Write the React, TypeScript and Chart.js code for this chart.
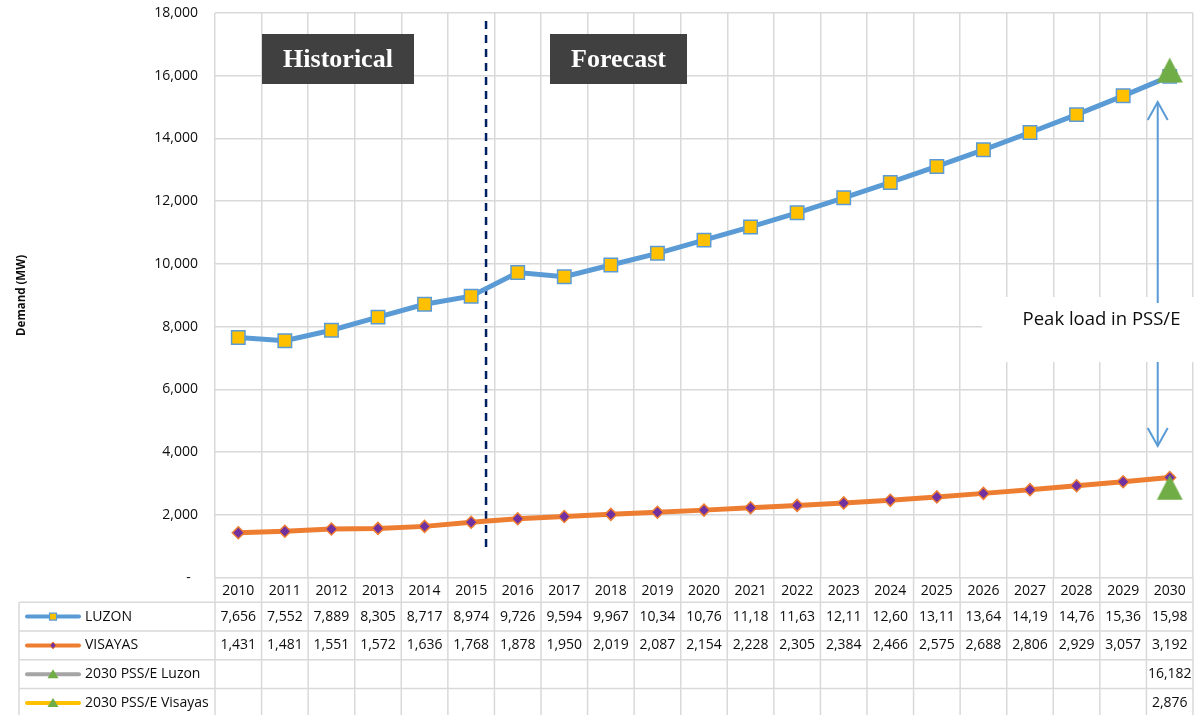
import React, { useEffect, useRef } from 'react';
import { Chart, registerables } from 'chart.js';

Chart.register(...registerables);

// ---------- data ----------
const years = ['2010', '2011', '2012', '2013', '2014', '2015', '2016', '2017', '2018', '2019', '2020',
  '2021', '2022', '2023', '2024', '2025', '2026', '2027', '2028', '2029', '2030'];

const luzon = [7656, 7552, 7889, 8305, 8717, 8974, 9726, 9594, 9967, 10340, 10760,
  11180, 11630, 12110, 12600, 13110, 13640, 14190, 14760, 15360, 15980];

const visayas = [1431, 1481, 1551, 1572, 1636, 1768, 1878, 1950, 2019, 2087, 2154,
  2228, 2305, 2384, 2466, 2575, 2688, 2806, 2929, 3057, 3192];

const pssLuzon: (number | null)[] = [null, null, null, null, null, null, null, null, null, null, null,
  null, null, null, null, null, null, null, null, null, 16182];

const pssVisayas: (number | null)[] = [null, null, null, null, null, null, null, null, null, null, null,
  null, null, null, null, null, null, null, null, null, 2876];

// table cell texts as shown (Luzon cells are clipped in the original)
const luzonTableLabels = ['7,656', '7,552', '7,889', '8,305', '8,717', '8,974', '9,726', '9,594', '9,967', '10,34', '10,76',
  '11,18', '11,63', '12,11', '12,60', '13,11', '13,64', '14,19', '14,76', '15,36', '15,98'];
const visayasTableLabels = visayas.map((v) => v.toLocaleString('en-US'));
const pssLuzonTableLabels = pssLuzon.map((v) => (v == null ? '' : v.toLocaleString('en-US')));
const pssVisayasTableLabels = pssVisayas.map((v) => (v == null ? '' : v.toLocaleString('en-US')));

const seriesNames = ['LUZON', 'VISAYAS', '2030 PSS/E Luzon', '2030 PSS/E Visayas'];

const yMin = 0;
const yMax = 18000;
const yStep = 2000;

const axisTitle = 'Demand (MW)';
const historicalText = 'Historical';
const forecastText = 'Forecast';
const peakText = 'Peak load in PSS/E';

// ---------- styles ----------
const FONT = '"Open Sans", "DejaVu Sans", sans-serif';
const GRID = '#d9d9d9';
const BLUE = '#5b9bd5';
const ORANGE = '#ed7d31';
const GRAY = '#a5a5a5';
const YELLOW = '#ffc000';
const GREEN = '#70ad47';
const PURPLE = '#7030a0';
const TEXT = '#0d0d0d';

function line(ctx: CanvasRenderingContext2D, x1: number, y1: number, x2: number, y2: number) {
  ctx.beginPath();
  ctx.moveTo(x1, y1);
  ctx.lineTo(x2, y2);
  ctx.stroke();
}

function makeTriangle(): HTMLCanvasElement {
  const c = document.createElement('canvas');
  c.width = 28;
  c.height = 26;
  const g = c.getContext('2d')!;
  g.fillStyle = GREEN;
  g.beginPath();
  g.moveTo(14, 0.5);
  g.lineTo(27, 25.5);
  g.lineTo(1, 25.5);
  g.closePath();
  g.fill();
  return c;
}

function drawMarker(ctx: CanvasRenderingContext2D, kind: number, cx: number, cy: number) {
  ctx.save();
  if (kind === 0) {
    ctx.fillStyle = YELLOW;
    ctx.strokeStyle = BLUE;
    ctx.lineWidth = 1.2;
    ctx.beginPath();
    ctx.rect(cx - 3.5, cy - 3.5, 7, 7);
    ctx.fill();
    ctx.stroke();
  } else if (kind === 1) {
    ctx.fillStyle = PURPLE;
    ctx.strokeStyle = ORANGE;
    ctx.lineWidth = 1;
    ctx.beginPath();
    ctx.moveTo(cx, cy - 3.5);
    ctx.lineTo(cx + 3, cy);
    ctx.lineTo(cx, cy + 3.5);
    ctx.lineTo(cx - 3, cy);
    ctx.closePath();
    ctx.fill();
    ctx.stroke();
  } else {
    ctx.fillStyle = GREEN;
    ctx.beginPath();
    ctx.moveTo(cx, cy - 5);
    ctx.lineTo(cx + 5.5, cy + 4);
    ctx.lineTo(cx - 5.5, cy + 4);
    ctx.closePath();
    ctx.fill();
  }
  ctx.restore();
}

const annotationPlugin = {
  id: 'annotations',
  beforeDatasetsDraw(chart: any) {
    const { ctx, chartArea, scales } = chart;
    const x = scales.x;
    const cw = x.getPixelForValue(1) - x.getPixelForValue(0);
    // white box behind "Peak load" text (covers grid)
    ctx.save();
    ctx.fillStyle = '#ffffff';
    ctx.fillRect(982, 297, chart.width - 982, 65);
    // dashed divider between historical and forecast
    const dx = x.getPixelForValue(5) + 0.32 * cw;
    ctx.strokeStyle = '#002060';
    ctx.lineWidth = 2.5;
    ctx.setLineDash([8, 6]);
    line(ctx, dx, chartArea.top + 8, dx, chartArea.bottom - 30);
    ctx.restore();
  },
  afterDatasetsDraw(chart: any) {
    const { ctx, scales } = chart;
    const x = scales.x;
    ctx.save();
    // Historical / Forecast labels
    ctx.fillStyle = '#404040';
    ctx.fillRect(262, 34, 152, 50);
    ctx.fillRect(550, 34, 137, 50);
    ctx.fillStyle = '#ffffff';
    ctx.font = 'bold 26px "Liberation Serif", "Times New Roman", serif';
    ctx.textAlign = 'center';
    ctx.textBaseline = 'middle';
    ctx.fillText(historicalText, 338, 60);
    ctx.fillText(forecastText, 618.5, 60);

    // Peak load text
    ctx.fillStyle = TEXT;
    ctx.font = `18.5px ${FONT}`;
    ctx.fillText(peakText, 1101.5, 320);

    // arrows
    const ax = x.getPixelForValue(20) - 12;
    ctx.strokeStyle = BLUE;
    ctx.lineWidth = 2;
    ctx.lineCap = 'butt';
    line(ctx, ax, 303, ax, 102);
    ctx.beginPath();
    ctx.moveTo(ax - 10, 120);
    ctx.lineTo(ax, 102);
    ctx.lineTo(ax + 10, 120);
    ctx.stroke();
    line(ctx, ax, 362, ax, 446);
    ctx.beginPath();
    ctx.moveTo(ax - 10, 428);
    ctx.lineTo(ax, 446);
    ctx.lineTo(ax + 10, 428);
    ctx.stroke();
    ctx.restore();
  },
};

const tablePlugin = {
  id: 'dataTable',
  afterDraw(chart: any) {
    const { ctx, chartArea, scales } = chart;
    const x = scales.x;
    const H = chart.height;
    const n = years.length;
    const cw = x.getPixelForValue(1) - x.getPixelForValue(0);
    const bottom = chartArea.bottom;
    const yearRowH = 24.5;
    const rowH = 28.8;
    const tableLeft = 19;
    const rowsTop = bottom + yearRowH;

    ctx.save();
    ctx.strokeStyle = GRID;
    ctx.lineWidth = 1.5;
    for (let i = 0; i <= n; i++) {
      const xx = x.getPixelForValue(0) - cw / 2 + i * cw;
      line(ctx, xx, bottom, xx, H);
    }
    line(ctx, tableLeft, rowsTop, tableLeft, H);
    for (let r = 0; r <= 4; r++) {
      const yy = rowsTop + r * rowH;
      line(ctx, tableLeft, yy, chartArea.right, yy);
    }

    ctx.fillStyle = TEXT;
    ctx.font = `14px ${FONT}`;
    ctx.textAlign = 'center';
    ctx.textBaseline = 'middle';
    years.forEach((yr, i) => ctx.fillText(yr, x.getPixelForValue(i), bottom + yearRowH / 2 + 1));

    const rows = [luzonTableLabels, visayasTableLabels, pssLuzonTableLabels, pssVisayasTableLabels];
    const colors = [BLUE, ORANGE, GRAY, YELLOW];
    rows.forEach((labels, r) => {
      const cy = rowsTop + r * rowH + rowH / 2;
      labels.forEach((t, i) => {
        if (t) ctx.fillText(t, x.getPixelForValue(i), cy);
      });
      // legend key
      ctx.save();
      ctx.strokeStyle = colors[r];
      ctx.lineWidth = 4;
      ctx.lineCap = 'round';
      line(ctx, 27, cy, 79, cy);
      ctx.restore();
      drawMarker(ctx, r, 53, cy);
      ctx.textAlign = 'left';
      ctx.fillText(seriesNames[r], 85, cy);
      ctx.textAlign = 'center';
    });
    ctx.restore();
  },
};

export default function App() {
  const canvasRef = useRef<HTMLCanvasElement | null>(null);

  useEffect(() => {
    const canvas = canvasRef.current;
    if (!canvas) return;
    const tri = makeTriangle();
    const chart = new Chart(canvas, {
      type: 'line',
      data: {
        labels: years,
        datasets: [
          {
            label: seriesNames[0],
            data: luzon,
            borderColor: BLUE,
            borderWidth: 5,
            pointStyle: 'rect',
            pointRadius: 9.5,
            pointBackgroundColor: YELLOW,
            pointBorderColor: BLUE,
            pointBorderWidth: 1.5,
            tension: 0,
            order: 2,
          },
          {
            label: seriesNames[1],
            data: visayas,
            borderColor: ORANGE,
            borderWidth: 5,
            pointStyle: 'rectRot',
            pointRadius: 6,
            pointBackgroundColor: PURPLE,
            pointBorderColor: ORANGE,
            pointBorderWidth: 1.5,
            tension: 0,
            order: 2,
          },
          {
            label: seriesNames[2],
            data: pssLuzon,
            borderColor: GRAY,
            showLine: false,
            pointStyle: tri,
            pointRadius: 14,
            pointBackgroundColor: GREEN,
            pointBorderColor: GREEN,
            pointBorderWidth: 0,
            order: 1,
          },
          {
            label: seriesNames[3],
            data: pssVisayas,
            borderColor: YELLOW,
            showLine: false,
            pointStyle: tri,
            pointRadius: 14,
            pointBackgroundColor: GREEN,
            pointBorderColor: GREEN,
            pointBorderWidth: 0,
            order: 1,
          },
        ],
      },
      options: {
        responsive: false,
        animation: false,
        layout: { autoPadding: false, padding: { left: 0, right: 5, top: 13, bottom: 137.3 } },
        plugins: {
          legend: { display: false },
          tooltip: { enabled: false },
        },
        scales: {
          x: {
            offset: true,
            grid: { offset: true, color: GRID, lineWidth: 1.5, drawTicks: false },
            border: { display: false },
            ticks: { display: false },
            afterFit: (s: any) => {
              s.height = 0;
            },
          },
          y: {
            min: yMin,
            max: yMax,
            ticks: {
              stepSize: yStep,
              padding: 17,
              color: TEXT,
              font: { family: FONT, size: 14 },
              callback: (v: any) => (Number(v) === 0 ? '-  ' : Number(v).toLocaleString('en-US')),
            },
            grid: { color: GRID, lineWidth: 1.5, drawTicks: false },
            border: { display: false },
            title: {
              display: true,
              text: axisTitle,
              color: TEXT,
              font: { family: FONT, size: 11.5, weight: 'bold' },
              padding: { top: 15, bottom: 0 },
            },
            afterFit: (s: any) => {
              s.width = 215;
              s.paddingTop = 0;
              s.paddingBottom = 0;
            },
          },
        },
      },
      plugins: [annotationPlugin, tablePlugin],
    });
    return () => chart.destroy();
  }, []);

  return (
    <div style={{ position: 'absolute', left: 0, top: 0, width: 1198, height: 715, background: '#ffffff' }}>
      <canvas ref={canvasRef} width={1198} height={715} style={{ width: 1198, height: 715, display: 'block' }} />
    </div>
  );
}
